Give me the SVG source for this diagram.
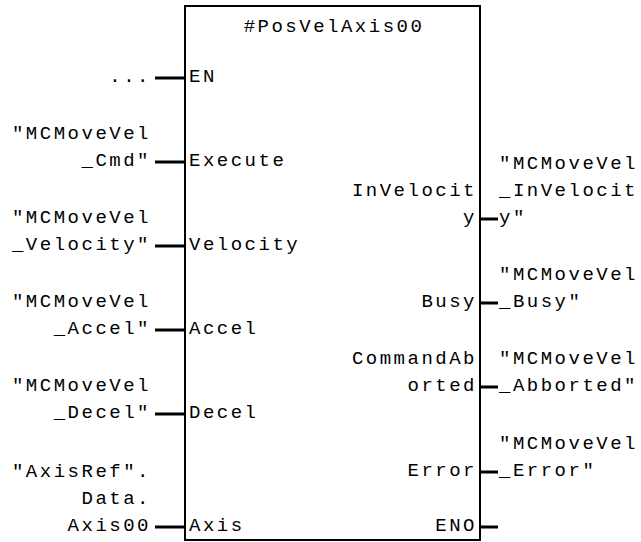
<svg xmlns="http://www.w3.org/2000/svg" width="641" height="542" viewBox="0 0 641 542">
  <style>
    text { font-family: "Liberation Mono", "DejaVu Sans Mono", monospace; font-size: 19px; letter-spacing: 2.5px; fill: #000; }
    .end { text-anchor: end; }
    .mid { text-anchor: middle; }
    .pin { stroke: #000; stroke-width: 3; fill: none; }
    .box { stroke: #000; stroke-width: 2; fill: #fff; }
  </style>
  <rect width="641" height="542" fill="#fff"/>

  <!-- function block body -->
  <g id="block">
    <rect class="box" x="185" y="6" width="295" height="534"/>
    <text class="mid" x="334" y="32">#PosVelAxis00</text>
  </g>

  <!-- pin stubs -->
  <g id="connectors">
    <line class="pin" x1="155" y1="78" x2="185" y2="78"/>
    <line class="pin" x1="155" y1="162" x2="185" y2="162"/>
    <line class="pin" x1="155" y1="246" x2="185" y2="246"/>
    <line class="pin" x1="155" y1="330" x2="185" y2="330"/>
    <line class="pin" x1="155" y1="414" x2="185" y2="414"/>
    <line class="pin" x1="155" y1="527" x2="185" y2="527"/>
    <line class="pin" x1="480" y1="219" x2="498" y2="219"/>
    <line class="pin" x1="480" y1="303" x2="498" y2="303"/>
    <line class="pin" x1="480" y1="387" x2="498" y2="387"/>
    <line class="pin" x1="480" y1="472" x2="498" y2="472"/>
    <line class="pin" x1="480" y1="527" x2="498" y2="527"/>
  </g>

  <!-- inputs -->
  <g id="in-en">
    <text class="end" x="151" y="82">...</text>
    <text x="189" y="82">EN</text>
  </g>
  <g id="in-execute">
    <text class="end" x="151" y="139">"MCMoveVel</text>
    <text class="end" x="151" y="166">_Cmd"</text>
    <text x="189" y="166">Execute</text>
  </g>
  <g id="in-velocity">
    <text class="end" x="151" y="223">"MCMoveVel</text>
    <text class="end" x="151" y="250">_Velocity"</text>
    <text x="189" y="250">Velocity</text>
  </g>
  <g id="in-accel">
    <text class="end" x="151" y="307">"MCMoveVel</text>
    <text class="end" x="151" y="334">_Accel"</text>
    <text x="189" y="334">Accel</text>
  </g>
  <g id="in-decel">
    <text class="end" x="151" y="391">"MCMoveVel</text>
    <text class="end" x="151" y="418">_Decel"</text>
    <text x="189" y="418">Decel</text>
  </g>
  <g id="in-axis">
    <text class="end" x="151" y="477">"AxisRef".</text>
    <text class="end" x="151" y="504">Data.</text>
    <text class="end" x="151" y="531">Axis00</text>
    <text x="189" y="531">Axis</text>
  </g>

  <!-- outputs -->
  <g id="out-invelocity">
    <text class="end" x="477" y="196">InVelocit</text>
    <text class="end" x="477" y="223">y</text>
    <text x="499" y="169">"MCMoveVel</text>
    <text x="499" y="196">_InVelocit</text>
    <text x="499" y="223">y"</text>
  </g>
  <g id="out-busy">
    <text class="end" x="477" y="307">Busy</text>
    <text x="499" y="280">"MCMoveVel</text>
    <text x="499" y="307">_Busy"</text>
  </g>
  <g id="out-aborted">
    <text class="end" x="477" y="364">CommandAb</text>
    <text class="end" x="477" y="391">orted</text>
    <text x="499" y="364">"MCMoveVel</text>
    <text x="499" y="391">_Abborted"</text>
  </g>
  <g id="out-error">
    <text class="end" x="477" y="476">Error</text>
    <text x="499" y="449">"MCMoveVel</text>
    <text x="499" y="476">_Error"</text>
  </g>
  <g id="out-eno">
    <text class="end" x="477" y="531">ENO</text>
  </g>
</svg>
